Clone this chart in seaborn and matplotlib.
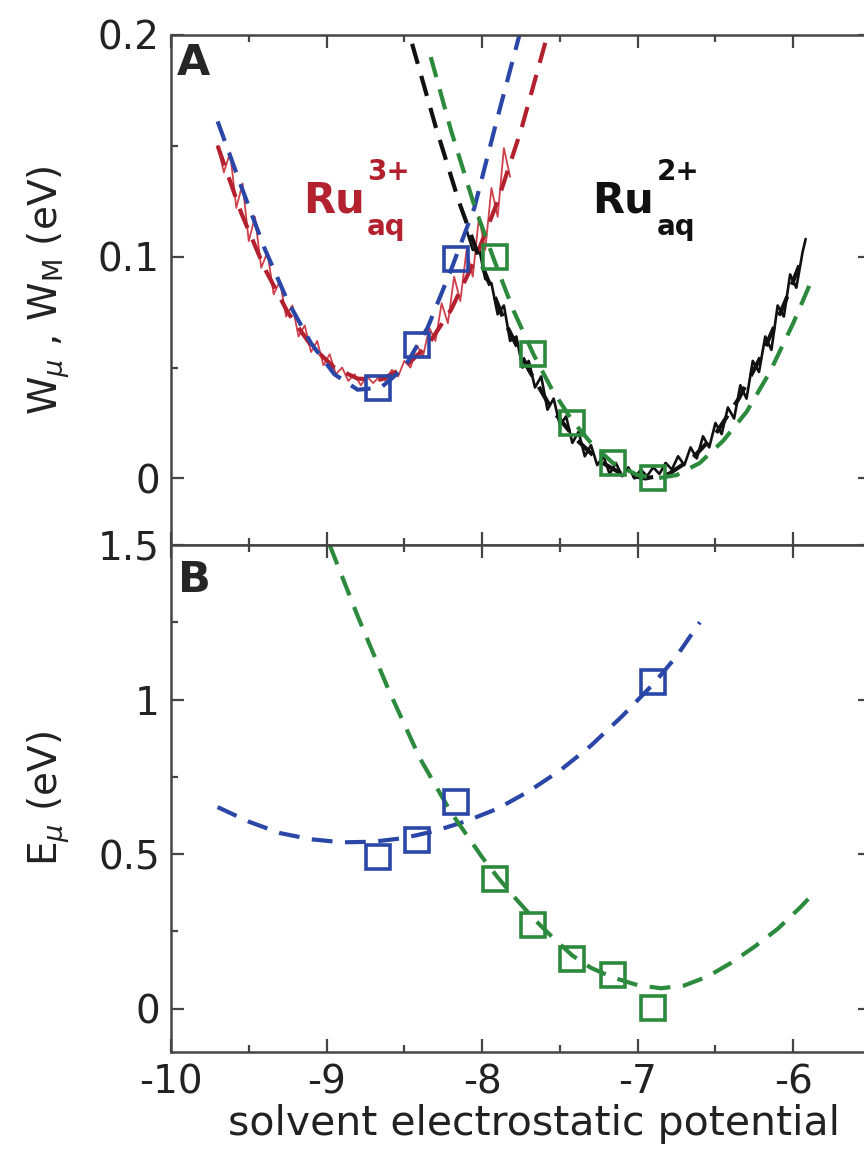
import matplotlib
matplotlib.use("Agg")
import matplotlib.pyplot as plt
import seaborn as sns
from matplotlib.ticker import MultipleLocator

# ---------------- data ----------------
# Panel A: free-energy profiles W_mu, W_M (eV) vs solvent electrostatic potential
ru3_sim_x = [-9.70, -9.66, -9.62, -9.58, -9.54, -9.50, -9.46, -9.42, -9.38, -9.34,
             -9.30, -9.26, -9.22, -9.18, -9.14, -9.10, -9.06, -9.02, -8.98, -8.94,
             -8.90, -8.86, -8.82, -8.78, -8.74, -8.70, -8.66, -8.62, -8.58, -8.54,
             -8.50, -8.46, -8.42, -8.38, -8.34, -8.30, -8.26, -8.22, -8.18, -8.14,
             -8.10, -8.06, -8.02, -7.98, -7.94, -7.90, -7.86, -7.82]
ru3_sim_w = [0.150, 0.138, 0.147, 0.122, 0.133, 0.107, 0.118, 0.095, 0.102, 0.083,
             0.089, 0.073, 0.078, 0.064, 0.069, 0.057, 0.062, 0.051, 0.056, 0.047,
             0.050, 0.044, 0.047, 0.042, 0.046, 0.043, 0.046, 0.044, 0.049, 0.046,
             0.053, 0.050, 0.060, 0.055, 0.068, 0.062, 0.079, 0.070, 0.091, 0.080,
             0.103, 0.091, 0.118, 0.103, 0.131, 0.118, 0.149, 0.136]

ru2_sim_x = [-8.10, -8.06, -8.02, -7.98, -7.94, -7.90, -7.86, -7.82, -7.78, -7.74,
             -7.70, -7.66, -7.62, -7.58, -7.54, -7.50, -7.46, -7.42, -7.38, -7.34,
             -7.30, -7.26, -7.22, -7.18, -7.14, -7.10, -7.06, -7.02, -6.98, -6.94,
             -6.90, -6.86, -6.82, -6.78, -6.74, -6.70, -6.66, -6.62, -6.58, -6.54,
             -6.50, -6.46, -6.42, -6.38, -6.34, -6.30, -6.26, -6.22, -6.18, -6.14,
             -6.10, -6.06, -6.02, -5.98, -5.94, -5.92]
ru2_sim_w = [0.112, 0.103, 0.104, 0.090, 0.088, 0.074, 0.078, 0.062, 0.064, 0.050,
             0.053, 0.041, 0.046, 0.031, 0.036, 0.024, 0.028, 0.016, 0.021, 0.010,
             0.015, 0.006, 0.010, 0.002, 0.007, 0.001, 0.005, 0.000, 0.004, 0.001,
             0.005, 0.002, 0.007, 0.004, 0.010, 0.006, 0.014, 0.009, 0.019, 0.014,
             0.025, 0.020, 0.032, 0.027, 0.042, 0.036, 0.053, 0.048, 0.064, 0.058,
             0.078, 0.073, 0.092, 0.086, 0.102, 0.108]

ru3_fit_x = [-9.70, -9.55, -9.40, -9.25, -9.10, -8.95, -8.80, -8.65, -8.50, -8.35,
             -8.20, -8.05, -7.90, -7.75, -7.58]
ru3_fit_w = [0.150, 0.120, 0.095, 0.075, 0.060, 0.050, 0.045, 0.0446, 0.050, 0.060,
             0.076, 0.098, 0.125, 0.157, 0.200]

blue_fit_x = [-9.70, -9.55, -9.40, -9.25, -9.10, -8.95, -8.80, -8.65, -8.50, -8.35,
              -8.20, -8.05, -7.90, -7.76]
blue_fit_w = [0.161, 0.132, 0.104, 0.080, 0.061, 0.047, 0.040, 0.041, 0.050, 0.068,
              0.094, 0.122, 0.163, 0.200]

ru2_fit_x = [-8.45, -8.30, -8.15, -8.00, -7.85, -7.70, -7.55, -7.40, -7.25, -7.10,
             -6.95, -6.80, -6.65, -6.50, -6.35, -6.20, -6.05, -5.95]
ru2_fit_w = [0.196, 0.159, 0.125, 0.096, 0.070, 0.049, 0.031, 0.018, 0.008, 0.002,
             0.000, 0.002, 0.009, 0.020, 0.036, 0.056, 0.080, 0.098]

green_fit_x = [-8.33, -8.20, -8.05, -7.92, -7.80, -7.67, -7.55, -7.42, -7.30, -7.16,
               -7.00, -6.88, -6.75, -6.60, -6.45, -6.30, -6.15, -6.00, -5.89]
green_fit_w = [0.190, 0.157, 0.123, 0.098, 0.076, 0.056, 0.040, 0.026, 0.016, 0.007,
               0.0015, 0.000, 0.0015, 0.007, 0.017, 0.030, 0.048, 0.070, 0.088]

blue_pts_x = [-8.67, -8.42, -8.17]
blue_pts_w = [0.041, 0.060, 0.099]
green_pts_x = [-7.92, -7.67, -7.42, -7.16, -6.90]
green_pts_w = [0.100, 0.056, 0.025, 0.007, 0.000]

# Panel B: energies E_mu (eV)
blue_E_x = [-8.67, -8.42, -8.17, -6.90]
blue_E = [0.490, 0.547, 0.667, 1.058]
green_E_x = [-7.92, -7.67, -7.42, -7.16, -6.90]
green_E = [0.418, 0.272, 0.160, 0.110, 0.003]

blue_Efit_x = [-9.70, -9.50, -9.30, -9.10, -8.90, -8.70, -8.50, -8.30, -8.10, -7.90,
               -7.70, -7.50, -7.30, -7.10, -6.90, -6.75, -6.60]
blue_Efit = [0.652, 0.605, 0.568, 0.548, 0.538, 0.540, 0.552, 0.575, 0.607, 0.647,
             0.703, 0.770, 0.851, 0.946, 1.050, 1.140, 1.250]

green_Efit_x = [-8.98, -8.80, -8.60, -8.40, -8.20, -8.00, -7.90, -7.80, -7.67, -7.55,
                -7.42, -7.30, -7.16, -7.00, -6.85, -6.70, -6.55, -6.40, -6.25, -6.10,
                -5.95, -5.89]
green_Efit = [1.500, 1.270, 1.030, 0.810, 0.635, 0.490, 0.425, 0.365, 0.292, 0.232,
              0.172, 0.132, 0.101, 0.076, 0.066, 0.075, 0.104, 0.148, 0.200, 0.258,
              0.330, 0.362]

x_ticks = [-10, -9, -8, -7, -6]
x_tick_labels = ["-10", "-9", "-8", "-7", "-6"]
a_ticks = [0, 0.1, 0.2]
a_tick_labels = ["0", "0.1", "0.2"]
b_ticks = [0, 0.5, 1, 1.5]
b_tick_labels = ["0", "0.5", "1", "1.5"]

# ---------------- style ----------------
sns.set_style("ticks")
plt.rcParams.update({
    "font.family": ["DejaVu Sans"],
    "mathtext.fontset": "dejavusans",
    "axes.unicode_minus": False,
})

RED = "#b3202e"
RED_THIN = "#d0404a"
BLUE = "#2a46a6"
GREEN = "#2c8a3c"
BLACK = "#111111"
TEXT = "#222222"
SPINE = "#454545"
DASH = (0, (5, 3))
FS = 28

fig = plt.figure(figsize=(8.64, 11.57), dpi=100)
axA = fig.add_axes([0.1979, 0.5290, 0.8102, 0.4408])
axB = fig.add_axes([0.1979, 0.0908, 0.8102, 0.4382])


def curve(ax, x, y, color, lw, ls="-"):
    sns.lineplot(x=x, y=y, ax=ax, color=color, lw=lw, linestyle=ls,
                 estimator=None, sort=False, legend=False)


def squares(ax, x, y, color):
    sns.lineplot(x=x, y=y, ax=ax, color=color, linestyle="none", marker="s",
                 markersize=17, markerfacecolor="none", markeredgecolor=color,
                 markeredgewidth=2.6, estimator=None, sort=False, legend=False)


def ion_label(ax, x, y, charge, color):
    # "Ru" with a raised charge and a lowered "aq", laid out as separate texts
    ax.text(x, y, "Ru", color=color, fontsize=30, fontweight="bold",
            va="baseline", ha="left")
    ax.annotate(charge, xy=(x, y), xytext=(46, 23), textcoords="offset points",
                color=color, fontsize=20, fontweight="bold",
                va="baseline", ha="left")
    ax.annotate("aq", xy=(x, y), xytext=(46, -16.5), textcoords="offset points",
                color=color, fontsize=20, fontweight="bold",
                va="baseline", ha="left")


# Panel A
curve(axA, ru3_sim_x, ru3_sim_w, RED_THIN, 1.3)
curve(axA, ru2_sim_x, ru2_sim_w, BLACK, 1.9)
curve(axA, ru3_fit_x, ru3_fit_w, RED, 3.0, DASH)
curve(axA, blue_fit_x, blue_fit_w, BLUE, 3.0, DASH)
curve(axA, ru2_fit_x, ru2_fit_w, BLACK, 3.0, DASH)
curve(axA, green_fit_x, green_fit_w, GREEN, 3.0, DASH)
squares(axA, blue_pts_x, blue_pts_w, BLUE)
squares(axA, green_pts_x, green_pts_w, GREEN)

ion_label(axA, -9.15, 0.120, "3+", RED)
ion_label(axA, -7.29, 0.120, "2+", BLACK)

# Panel B
curve(axB, blue_Efit_x, blue_Efit, BLUE, 3.0, DASH)
curve(axB, green_Efit_x, green_Efit, GREEN, 3.0, DASH)
squares(axB, blue_E_x, blue_E, BLUE)
squares(axB, green_E_x, green_E, GREEN)

# ---------------- axes ----------------
for ax in (axA, axB):
    ax.set_xlim(-10, -5.5)
    ax.set_xticks(x_ticks, labels=x_tick_labels)
    ax.xaxis.set_minor_locator(MultipleLocator(0.5))
    ax.tick_params(which="both", direction="in", top=True, right=True,
                   color=SPINE, width=1.6, labelsize=FS, labelcolor=TEXT)
    ax.tick_params(which="major", length=9.5, pad=8)
    ax.tick_params(which="minor", length=5)
    for s in ax.spines.values():
        s.set_color(SPINE)
        s.set_linewidth(1.8)
    ax.set_xlabel("")
    ax.set_ylabel("")

axA.set_ylim(-0.03, 0.2)
axA.set_yticks(a_ticks, labels=a_tick_labels)
axA.yaxis.set_minor_locator(MultipleLocator(0.05))
axA.tick_params(labelbottom=False)

axB.set_ylim(-0.14, 1.5)
axB.set_yticks(b_ticks, labels=b_tick_labels)
axB.yaxis.set_minor_locator(MultipleLocator(0.25))

axA.set_ylabel(r"W$_{\mu}$ , W$_{\mathrm{M}}$ (eV)", fontsize=FS, color=TEXT)
axA.yaxis.set_label_coords(-0.141, 0.5)
axB.set_ylabel(r"E$_{\mu}$ (eV)", fontsize=FS, color=TEXT)
axB.yaxis.set_label_coords(-0.141, 0.5)
axB.set_xlabel("solvent electrostatic potential", fontsize=29.5, color=TEXT)
axB.xaxis.set_label_coords(0.519, -0.103)

axA.text(0.008, 0.921, "A", transform=axA.transAxes, fontsize=31,
         fontweight="bold", va="baseline", ha="left")
axB.text(0.010, 0.907, "B", transform=axB.transAxes, fontsize=31,
         fontweight="bold", va="baseline", ha="left")

fig.savefig("out.png", dpi=100)
